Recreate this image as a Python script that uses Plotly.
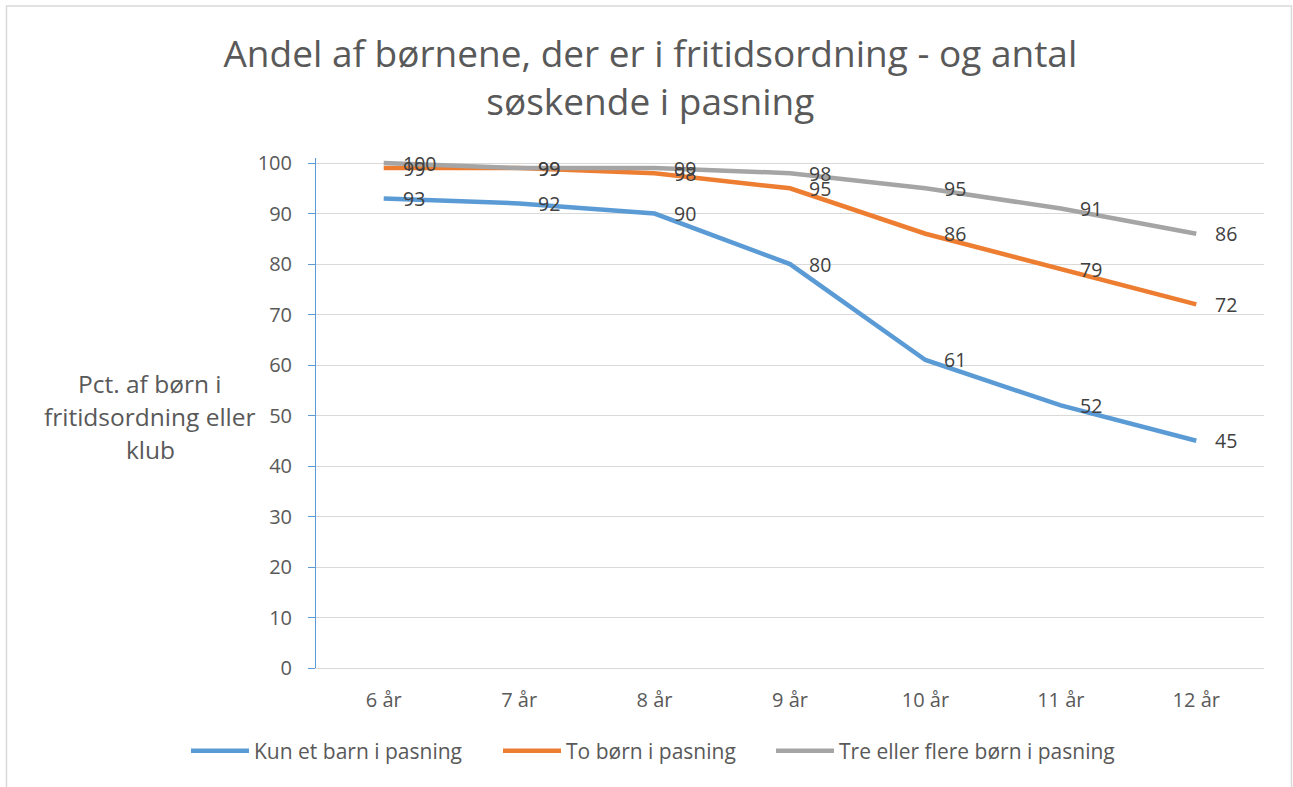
import plotly.graph_objects as go

categories = ["6 år", "7 år", "8 år", "9 år", "10 år", "11 år", "12 år"]
kun_et_barn = [93, 92, 90, 80, 61, 52, 45]
to_boern = [99, 99, 98, 95, 86, 79, 72]
tre_flere = [100, 99, 99, 98, 95, 91, 86]

series = [
    ("Kun et barn i pasning", kun_et_barn, "#5B9BD5"),
    ("To børn i pasning", to_boern, "#ED7D31"),
    ("Tre eller flere børn i pasning", tre_flere, "#A5A5A5"),
]

FONT = "Open Sans"
W, H = 1293, 787
L, R, T, B = 316, 29, 158, 119
plot_w = W - L - R
plot_h = H - T - B


def px_x(px):
    return (px - L) / plot_w


def px_y(py):
    return (H - B - py) / plot_h


legend_names = ["legend", "legend2", "legend3"]
legend_left_px = [193, 505, 778]

fig = go.Figure()
for (name, vals, color), lg in zip(series, legend_names):
    fig.add_trace(go.Scatter(
        x=categories, y=vals, name=name, mode="lines",
        line=dict(color=color, width=4.5), legend=lg,
    ))

annotations = []
for name, vals, color in series:
    for c, v in zip(categories, vals):
        annotations.append(dict(
            x=c, y=v, xref="x", yref="y", text=str(v), showarrow=False,
            xanchor="left", yanchor="middle", xshift=17,
            font=dict(family=FONT, size=19.5, color="#404040"),
        ))

ytitle_lines = ["Pct. af børn i", "fritidsordning eller", "klub"]
for i, line in enumerate(ytitle_lines):
    py = 383 + i * 33
    annotations.append(dict(
        x=px_x(150), y=px_y(py), xref="paper", yref="paper",
        text=line, showarrow=False, xanchor="center", yanchor="middle",
        font=dict(family=FONT, size=24.5, color="#595959"),
    ))

fig.add_shape(type="path", xref="paper", yref="paper",
              path=f"M {px_x(6.5)} {px_y(830)} L {px_x(6.5)} {px_y(6)} L {px_x(1291.5)} {px_y(6)} L {px_x(1291.5)} {px_y(830)}",
              line=dict(color="#D9D9D9", width=1.5), layer="above")

legend_common = dict(
    orientation="h", xanchor="left", y=px_y(751), yanchor="middle",
    font=dict(family=FONT, size=21, color="#595959"), itemwidth=58,
    bgcolor="rgba(0,0,0,0)",
)

fig.update_layout(
    width=W, height=H,
    margin=dict(l=L, r=R, t=T, b=B),
    paper_bgcolor="white", plot_bgcolor="white",
    title=dict(
        text="Andel af børnene, der er i fritidsordning - og antal<br>søskende i pasning",
        x=0.503, xanchor="center", xref="container",
        y=1 - 67 / H, yanchor="top", yref="container",
        font=dict(family=FONT, size=37, color="#595959"),
    ),
    xaxis=dict(
        type="category", range=[-0.5, len(categories) - 0.5],
        showgrid=False, showline=True, linecolor="#D9D9D9", linewidth=1,
        ticks="", tickfont=dict(family=FONT, size=20, color="#595959"),
        ticklabelstandoff=14, zeroline=False, fixedrange=True,
    ),
    yaxis=dict(
        range=[0, 101], tickvals=[0, 10, 20, 30, 40, 50, 60, 70, 80, 90, 100],
        showgrid=True, gridcolor="#D9D9D9", gridwidth=1,
        showline=True, linecolor="#5B9BD5", linewidth=1,
        ticks="outside", ticklen=7, tickcolor="#5B9BD5",
        ticklabelstandoff=12,
        tickfont=dict(family=FONT, size=20, color="#595959"),
        zeroline=False, fixedrange=True,
    ),
    legend=dict(x=px_x(legend_left_px[0] - 7), **legend_common),
    legend2=dict(x=px_x(legend_left_px[1] - 7), **legend_common),
    legend3=dict(x=px_x(legend_left_px[2] - 7), **legend_common),
    annotations=annotations,
    showlegend=True,
)

fig.write_html("out.html", config={"displayModeBar": False},
               post_script="document.body.style.margin='0';document.body.style.overflow='hidden';")
